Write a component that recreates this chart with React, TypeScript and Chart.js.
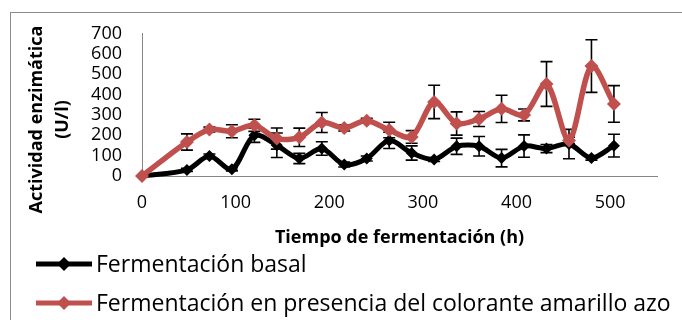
import React, { useEffect, useRef } from 'react';
import { Chart, registerables } from 'chart.js';

Chart.register(...registerables);

// ---- data ----
const hours = [0, 48, 72, 96, 120, 144, 168, 192, 216, 240, 264, 288, 312, 336, 360, 384, 408, 432, 456, 480, 504];
const basal = [0, 30, 98, 33, 200, 151, 86, 135, 56, 86, 175, 113, 81, 146, 146, 88, 147, 135, 157, 88, 149];
const basalErr = [0, 8, 10, 8, 35, 60, 25, 33, 12, 12, 40, 35, 10, 40, 48, 43, 55, 20, 72, 10, 56];
const colorante = [0, 167, 228, 220, 249, 184, 190, 263, 236, 272, 226, 192, 364, 258, 280, 330, 300, 452, 175, 540, 354];
const coloranteErr = [0, 40, 12, 32, 30, 52, 45, 49, 15, 12, 38, 31, 82, 57, 37, 67, 29, 110, 15, 129, 90];
const seriesNames = ['Fermentación basal', 'Fermentación en presencia del colorante amarillo azo'];
const xTitle = 'Tiempo de fermentación (h)';
const yTitle = ['Actividad enzimática', '(U/l)'];
const xMin = 0;
const xMax = 550;
const xStep = 100;
const yMin = 0;
const yMax = 700;
const yStep = 100;

const RED = '#C0504D';
const BLACK = '#000000';
const FONT = "'Open Sans', 'DejaVu Sans', sans-serif";

const frame = {
  id: 'frame',
  beforeDraw(chart: any) {
    const ctx = chart.ctx;
    ctx.save();
    ctx.fillStyle = '#fff';
    ctx.fillRect(0, 0, chart.width, chart.height);
    ctx.strokeStyle = '#898989';
    ctx.lineWidth = 1;
    ctx.strokeRect(10.5, 12.5, chart.width + 20, chart.height + 20);
    ctx.restore();
  },
};

const errorBars = {
  id: 'errorBars',
  beforeDatasetsDraw(chart: any) {
    const { ctx, scales } = chart;
    const x = scales.x;
    const y = scales.y;
    ctx.save();
    ctx.strokeStyle = '#000';
    ctx.lineWidth = 1.6;
    chart.data.datasets.forEach((ds: any) => {
      const errs: number[] = ds.errors || [];
      ds.data.forEach((p: any, j: number) => {
        const e = errs[j];
        if (!e) return;
        const px = x.getPixelForValue(p.x);
        const top = y.getPixelForValue(p.y + e);
        const bot = y.getPixelForValue(p.y - e);
        ctx.beginPath();
        ctx.moveTo(px, top);
        ctx.lineTo(px, bot);
        ctx.moveTo(px - 6, top);
        ctx.lineTo(px + 6, top);
        ctx.moveTo(px - 6, bot);
        ctx.lineTo(px + 6, bot);
        ctx.stroke();
      });
    });
    ctx.restore();
  },
};

const yTitlePlugin = {
  id: 'yTitlePlugin',
  afterDraw(chart: any) {
    const ctx = chart.ctx;
    const area = chart.chartArea;
    ctx.save();
    ctx.fillStyle = '#000';
    ctx.font = `bold 18px ${FONT}`;
    ctx.textAlign = 'center';
    ctx.textBaseline = 'middle';
    const cy = area.top + 86;
    const xs = [37, 63];
    yTitle.forEach((t, i) => {
      ctx.save();
      ctx.translate(xs[i], cy);
      ctx.rotate(-Math.PI / 2);
      ctx.fillText(t, 0, 0);
      ctx.restore();
    });
    ctx.restore();
  },
};

const legendPlugin = {
  id: 'legendPlugin',
  afterDraw(chart: any) {
    const ctx = chart.ctx;
    const area = chart.chartArea;
    ctx.save();
    chart.data.datasets.forEach((ds: any, i: number) => {
      const yy = area.bottom + 88 + i * 39;
      ctx.strokeStyle = ds.borderColor;
      ctx.lineWidth = 5;
      ctx.beginPath();
      ctx.moveTo(36, yy);
      ctx.lineTo(92, yy);
      ctx.stroke();
      ctx.fillStyle = ds.pointBackgroundColor;
      ctx.beginPath();
      ctx.moveTo(64, yy - 7);
      ctx.lineTo(71, yy);
      ctx.lineTo(64, yy + 7);
      ctx.lineTo(57, yy);
      ctx.closePath();
      ctx.fill();
      ctx.fillStyle = '#000';
      ctx.font = `23px ${FONT}`;
      ctx.textAlign = 'left';
      ctx.textBaseline = 'middle';
      ctx.fillText(ds.label, 96, yy + 1);
    });
    ctx.restore();
  },
};

export default function App() {
  const canvasRef = useRef<HTMLCanvasElement | null>(null);

  useEffect(() => {
    if (!canvasRef.current) return;
    const chart = new Chart(canvasRef.current, {
      type: 'line',
      data: {
        datasets: [
          {
            label: seriesNames[0],
            data: hours.map((h, i) => ({ x: h, y: basal[i] })),
            errors: basalErr,
            borderColor: BLACK,
            backgroundColor: BLACK,
            pointBackgroundColor: BLACK,
            pointBorderColor: BLACK,
            borderWidth: 5,
            pointStyle: 'rectRot',
            pointRadius: 6,
            pointBorderWidth: 0,
            tension: 0.3,
            clip: false,
            order: 1,
          } as any,
          {
            label: seriesNames[1],
            data: hours.map((h, i) => ({ x: h, y: colorante[i] })),
            errors: coloranteErr,
            borderColor: RED,
            backgroundColor: RED,
            pointBackgroundColor: RED,
            pointBorderColor: RED,
            borderWidth: 5.5,
            pointStyle: 'rectRot',
            pointRadius: 7,
            pointBorderWidth: 0,
            tension: 0.3,
            clip: false,
            order: 0,
          } as any,
        ],
      },
      plugins: [frame, errorBars, yTitlePlugin, legendPlugin],
      options: {
        animation: false,
        responsive: false,
        devicePixelRatio: 1,
        layout: { padding: { top: 33.5, right: 25, bottom: 71, left: 0 } },
        plugins: {
          legend: { display: false },
          tooltip: { enabled: false },
        },
        scales: {
          x: {
            type: 'linear',
            min: xMin,
            max: xMax,
            grid: { display: false, drawTicks: false },
            border: { display: true, color: '#868686', width: 1 },
            afterBuildTicks: (scale: any) => {
              scale.ticks = scale.ticks.filter((t: any) => t.value % xStep === 0);
            },
            afterFit: (scale: any) => {
              scale.height = 73;
            },
            ticks: {
              stepSize: xStep,
              autoSkip: false,
              maxRotation: 0,
              padding: 16,
              color: '#000',
              font: { family: FONT, size: 18 },
            },
            title: {
              display: true,
              text: xTitle,
              color: '#000',
              padding: { top: 0, bottom: 0 },
              font: { family: FONT, size: 18, weight: 'bold', lineHeight: 1.2 },
            },
          },
          y: {
            type: 'linear',
            min: yMin,
            max: yMax,
            grid: { display: false, drawTicks: false },
            border: { display: true, color: '#868686', width: 1 },
            afterFit: (scale: any) => {
              scale.width = 142;
            },
            ticks: {
              stepSize: yStep,
              autoSkip: false,
              padding: 20,
              color: '#000',
              font: { family: FONT, size: 18, lineHeight: 1 },
            },
          },
        },
      } as any,
    });
    return () => chart.destroy();
  }, []);

  return (
    <div style={{ position: 'fixed', left: 0, top: 0, width: 682, height: 320, overflow: 'hidden', background: '#fff' }}>
      <canvas ref={canvasRef} width={682} height={320} style={{ width: 682, height: 320, display: 'block' }} />
    </div>
  );
}
